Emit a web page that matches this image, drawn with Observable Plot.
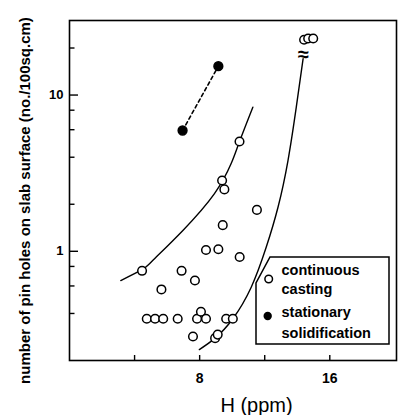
<!DOCTYPE html>
<html><head><meta charset="utf-8">
<script src="https://cdn.jsdelivr.net/npm/d3@7"></script>
<script src="https://cdn.jsdelivr.net/npm/@observablehq/plot@0.6"></script>
<style>
body{margin:0;background:#fff}
#chart{width:404px;height:415px}
</style>
</head><body><div id="chart"></div>
<script>
// continuous casting (open circles)
const ccH = [10.45, 9.38, 9.52, 11.52, 9.42, 8.39, 9.15, 10.46, 4.46, 6.89, 7.71, 5.65,
             4.75, 5.26, 5.76, 6.65, 7.84, 8.08, 8.39, 9.63, 10.04, 7.59, 8.95, 9.11,
             14.42, 14.67, 14.98];
const ccV = [5.04, 2.84, 2.49, 1.84, 1.47, 1.02, 1.03, 0.92, 0.75, 0.75, 0.65, 0.57,
             0.37, 0.37, 0.37, 0.37, 0.37, 0.41, 0.37, 0.37, 0.37, 0.285, 0.278, 0.293,
             22.6, 23.0, 23.0];
// stationary solidification (filled dots)
const ssH = [6.95, 9.15];
const ssV = [5.93, 15.3];
// hand-drawn envelope curves
const leftCurveH = [3.15, 4.44, 5.10, 6.97, 8.90, 9.93, 10.45, 11.27];
const leftCurveV = [0.65, 0.76, 0.87, 1.36, 2.33, 3.63, 5.04, 8.36];
const rightCurveH = [7.98, 8.95, 10.04, 11.17, 12.09, 12.82, 13.43, 13.94, 14.36];
const rightCurveV = [0.235, 0.278, 0.370, 0.589, 1.06, 1.92, 3.81, 8.36, 17.1];
// axis break marker on the right curve
const breakH = [14.38];
const breakV = [18.2];
// ticks
const xTicks = [4, 8, 12, 16];
const xTickLabels = [8, 16];
const yMinorTicks = [0.4, 0.6, 0.8, 2, 4, 6, 8, 20];
const yMajorTicks = [1, 10];
const xLabel = "H (ppm)";
const yLabel = "number of pin holes on slab surface (no./100sq.cm)";
const legendLabels = [["continuous", "casting"], ["stationary", "solidification"]];

const zip = (a, b) => a.map((v, i) => ({h: v, v: b[i]}));
const cc = zip(ccH, ccV), ss = zip(ssH, ssV);
const lc = zip(leftCurveH, leftCurveV), rc = zip(rightCurveH, rightCurveV);
const br = zip(breakH, breakV);

const font = "Liberation Sans, Arial, sans-serif";

const plot = Plot.plot({
  width: 404, height: 415,
  marginLeft: 69, marginRight: 8, marginTop: 20, marginBottom: 55,
  style: {fontFamily: font, fontWeight: "bold", color: "#000", background: "#fff"},
  x: {domain: [0, 20.1], axis: null},
  y: {type: "log", domain: [0.2, 30], axis: null},
  marks: [
    Plot.frame({stroke: "#000", strokeWidth: 1.6}),
    Plot.axisX(xTicks, {tickSize: -5, tickFormat: () => "", label: null, strokeWidth: 1.4}),
    Plot.axisX(xTickLabels, {tickSize: 0, tickPadding: 13, label: null, fontSize: 14, fontWeight: "bold"}),
    Plot.axisY(yMinorTicks, {tickSize: -5.5, tickFormat: () => "", label: null, strokeWidth: 1.4}),
    Plot.axisY(yMajorTicks, {tickSize: -9, tickFormat: () => "", label: null, strokeWidth: 1.4}),
    Plot.axisY(yMajorTicks, {tickSize: 0, tickPadding: 6, label: null, fontSize: 13, fontWeight: "bold", tickFormat: d => String(d)}),
    Plot.line(lc, {x: "h", y: "v", curve: "natural", stroke: "#000", strokeWidth: 1.4}),
    Plot.line(rc, {x: "h", y: "v", curve: "natural", stroke: "#000", strokeWidth: 1.4}),
    Plot.line(ss, {x: "h", y: "v", stroke: "#000", strokeWidth: 1.6, strokeDasharray: "3.5,3"}),
    Plot.dot(cc, {x: "h", y: "v", r: 4.3, stroke: "#000", strokeWidth: 1.5, fill: "#fff"}),
    Plot.dot(ss, {x: "h", y: "v", r: 4.4, fill: "#000", stroke: "#000"}),
    Plot.text(br, {x: "h", y: "v", text: () => "≈", fontSize: 20, fontWeight: "bold"}),
    Plot.text([xLabel], {frameAnchor: "bottom", dx: 23.5, dy: 45, fontSize: 20, fontWeight: "normal", textAnchor: "middle", lineAnchor: "middle"}),
    Plot.text([yLabel], {frameAnchor: "left", dx: -44, dy: 10, rotate: -90, fontSize: 15, fontWeight: "bold", textAnchor: "middle", lineAnchor: "middle"})
  ]
});

document.getElementById("chart").appendChild(plot);

// legend box (inside plot area, lower right)
const svg = d3.select(plot);
const g = svg.append("g").attr("transform", "translate(256,257)")
  .attr("font-family", font).attr("font-weight", "bold").attr("font-size", 14.5)
  .attr("text-anchor", "start");
g.append("path").attr("d", "M14,0H133V87H0V26Z").attr("fill", "#fff")
  .attr("stroke", "#000").attr("stroke-width", 1.5);
g.append("circle").attr("cx", 12.7).attr("cy", 22).attr("r", 3.8)
  .attr("fill", "#fff").attr("stroke", "#000").attr("stroke-width", 1.5);
g.append("circle").attr("cx", 11.7).attr("cy", 59).attr("r", 4.2).attr("fill", "#000");
const rowsY = [[13, 31.5], [55, 75.5]];
legendLabels.forEach((pair, i) => pair.forEach((t, j) => {
  g.append("text").attr("x", 25.5).attr("y", rowsY[i][j]).attr("dy", "0.35em").text(t);
}));
</script>
</body></html>
